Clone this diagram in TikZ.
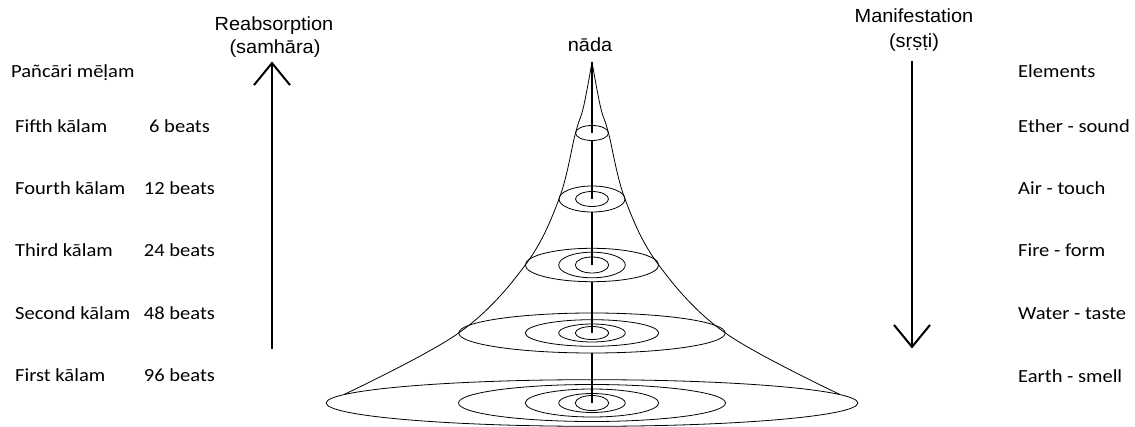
\documentclass[tikz,border=0pt]{standalone}
\usepackage{fontspec}
\setmainfont{Carlito}[FakeStretch=1.11]
\newfontfamily\arialf{Liberation Sans}[FakeStretch=1.05]
\usetikzlibrary{arrows.meta}
\tikzset{
  lbl/.style={inner sep=0pt, anchor=base west, font=\fontsize{18.5}{21}\selectfont},
  cbl/.style={inner sep=0pt, anchor=base, font=\fontsize{18.5}{21}\selectfont},
  head/.style={inner sep=0pt, anchor=base, font=\arialf\fontsize{19}{22}\selectfont},
  ring/.style={line width=0.8pt},
  axis/.style={line width=2.4pt},
  flow/.style={line width=2pt, -{Straight Barb[length=22pt, width=36pt, line width=2pt]}},
  cone/.style={line width=0.8pt}
}
\begin{document}
\begin{tikzpicture}[x=1pt, y=-1pt]
\useasboundingbox (0,0) rectangle (1135,427);
% left column
\node[lbl] (pm) at (11,78) {Pañcāri mēḷam};
\node[lbl] (k5) at (15,132.5) {Fifth kālam};
\node[lbl] (k4) at (15,194.5) {Fourth kālam};
\node[lbl] (k3) at (15,256.5) {Third kālam};
\node[lbl] (k2) at (15,319.5) {Second kālam};
\node[lbl] (k1) at (15,381.5) {First kālam};
\node[cbl] (b5) at (179.5,132.5) {6 beats};
\node[cbl] (b4) at (179.5,194.5) {12 beats};
\node[cbl] (b3) at (179.5,256.5) {24 beats};
\node[cbl] (b2) at (179.5,319.5) {48 beats};
\node[cbl] (b1) at (179.5,381.5) {96 beats};
% right column
\node[lbl] (el) at (1018,78) {Elements};
\node[lbl] (e5) at (1018,132.5) {Ether - sound};
\node[lbl] (e4) at (1018,194.5) {Air - touch};
\node[lbl] (e3) at (1018,256.5) {Fire - form};
\node[lbl] (e2) at (1018,319.5) {Water - taste};
\node[lbl] (e1) at (1018,382) {Earth - smell};
% headings
\node[head] (re) at (274,30.7) {Reabsorption};
\node[head] (sa) at (275,53.3) {(samhāra)};
\node[head] (ma) at (914,22.7) {Manifestation};
\node[head] (sr) at (914,47.3) {(sṛṣṭi)};
\node[head] (na) at (590,51.5) {nāda};
% arrows
\coordinate (ua) at (272,349);
\coordinate (ub) at (272,61.5);
\coordinate (da) at (912,61);
\coordinate (db) at (912,348.5);
\draw[flow] (ua) -- (ub);
\draw[flow] (da) -- (db);
% cone outline
\coordinate (apex) at (592,62);
\draw[cone] plot[smooth, tension=0.6] coordinates {(592,62) (583.5,107) (575.5,133) (559,199) (525.3,265) (458.7,333) (344,394.5)};
\draw[cone] plot[smooth, tension=0.6] coordinates {(592,62) (600.5,107) (608.5,133) (625,199) (658.7,265) (725.3,333) (840,394.5)};
% rings
\draw[ring] (592,133) ellipse [x radius=16.5, y radius=7.5];
\draw[ring] (592,199) ellipse [x radius=33, y radius=13];
\draw[ring] (592,199) ellipse [x radius=16.5, y radius=7.5];
\draw[ring] (592,265) ellipse [x radius=66.7, y radius=16.7];
\draw[ring] (592,265) ellipse [x radius=33.3, y radius=12.8];
\draw[ring] (592,265) ellipse [x radius=16.7, y radius=8];
\draw[ring] (592,333) ellipse [x radius=133.3, y radius=20];
\draw[ring] (592,333) ellipse [x radius=66.7, y radius=13.3];
\draw[ring] (592,333) ellipse [x radius=33.3, y radius=9];
\draw[ring] (592,333) ellipse [x radius=16.7, y radius=6.5];
\draw[ring] (592,403) ellipse [x radius=265.8, y radius=23.3];
\draw[ring] (592,403) ellipse [x radius=133.5, y radius=18.5];
\draw[ring] (592,403) ellipse [x radius=66.7, y radius=14];
\draw[ring] (592,403) ellipse [x radius=33.3, y radius=9.5];
\draw[ring] (592,403) ellipse [x radius=16.7, y radius=7.5];
% axis segments
\coordinate (s0) at (592,133);
\coordinate (t1) at (592,141);
\coordinate (s1) at (592,199);
\coordinate (t2) at (592,212);
\coordinate (s2) at (592,265);
\coordinate (t3) at (592,282);
\coordinate (s3) at (592,333);
\coordinate (t4) at (592,353);
\coordinate (s4) at (592,403);
\draw[axis] (apex) -- (s0);
\draw[axis] (t1) -- (s1);
\draw[axis] (t2) -- (s2);
\draw[axis] (t3) -- (s3);
\draw[axis] (t4) -- (s4);
\end{tikzpicture}
\end{document}
